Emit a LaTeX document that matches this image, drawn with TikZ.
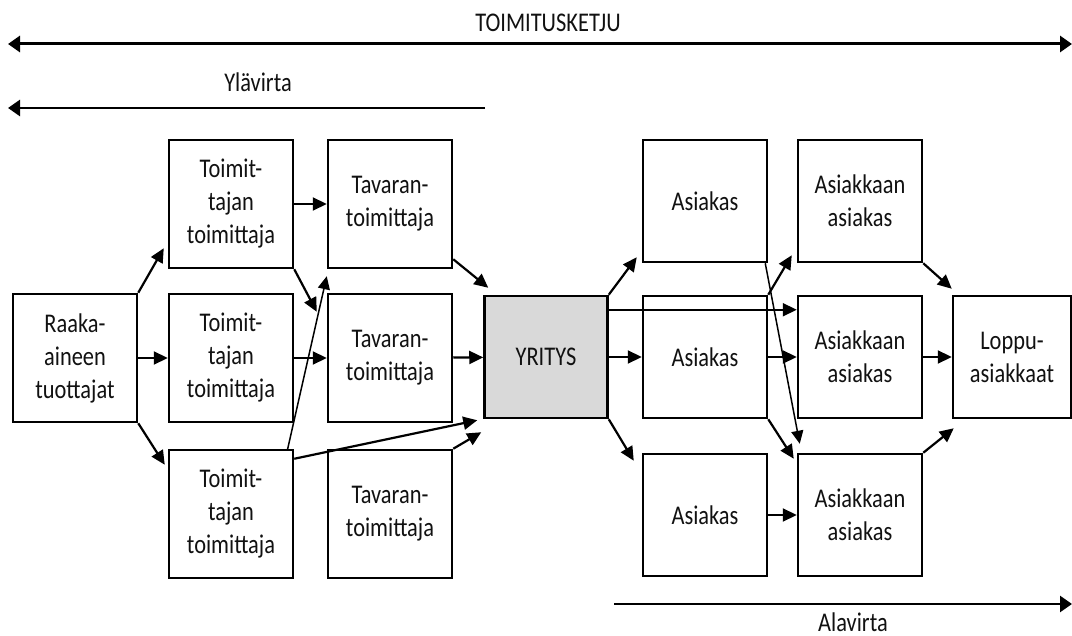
\documentclass[tikz,border=0pt]{standalone}
\usepackage{fontspec}
\setmainfont{Carlito}[FakeStretch=0.83]
\usetikzlibrary{arrows.meta,calc}
\definecolor{yritysgray}{HTML}{D9D9D9}
\definecolor{txt}{HTML}{111111}
\begin{document}
\begin{tikzpicture}[x=1pt,y=-1pt,
  box/.style={draw=black,line width=2.5pt,rectangle,minimum width=124pt,minimum height=128pt,
    align=center,inner sep=0pt,text=txt,font=\fontsize{27}{33}\selectfont},
  rbox/.style={box,minimum height=122pt},
  conn/.style={line width=2.2pt,-{Triangle[length=14pt,width=13pt]}},
  thinconn/.style={line width=1.5pt,-{Triangle[length=13pt,width=12pt]}},
  bigtip/.style={-{Triangle[length=12pt,width=16pt]}},
  lbl/.style={font=\fontsize{27}{32}\selectfont,inner sep=0pt,text=txt}]
\useasboundingbox (0,0) rectangle (1072,636);

% nodes
\node[box] (raaka) at (75,358) {Raaka-\\aineen\\tuottajat};
\node[box] (t1) at (231,204) {Toimit-\\tajan\\toimittaja};
\node[box] (t2) at (231,358) {Toimit-\\tajan\\toimittaja};
\node[box] (t3) at (231,514) {Toimit-\\tajan\\toimittaja};
\node[box] (v1) at (390,204) {Tavaran-\\toimittaja};
\node[box] (v2) at (390,358) {Tavaran-\\toimittaja};
\node[box] (v3) at (390,514) {Tavaran-\\toimittaja};
\node[box,minimum width=123pt,minimum height=122pt,fill=yritysgray] (yr) at (546,357) {YRITYS};
\node[rbox] (a1) at (705,201) {Asiakas};
\node[rbox] (a2) at (705,357) {Asiakas};
\node[rbox] (a3) at (705,515) {Asiakas};
\node[rbox] (k1) at (860,201) {Asiakkaan\\asiakas};
\node[rbox] (k2) at (860,357) {Asiakkaan\\asiakas};
\node[rbox] (k3) at (860,515) {Asiakkaan\\asiakas};
\node[rbox,minimum width=118pt] (lp) at (1012,357) {Loppu-\\asiakkaat};

% connectors, left side
\draw[conn] (raaka.north east) -- ($(t1.south west)+(-4,-21)$);
\draw[conn] (raaka) -- (t2);
\draw[conn] (raaka.south east) -- ($(t3.north west)+(-3,16)$);
\draw[conn] (t1) -- (v1);
\draw[conn] (t1.south east) -- ($(v2.north west)+(-10,19)$);
\draw[conn] (t2) -- (v2);
\draw[thinconn] ($(t3.north east)+(-7,2)$) -- ($(v1.south west)+(0,7)$);
\draw[conn] ($(t3.north east)+(0,10)$) -- ($(yr.south west)+(-6,1)$);
\draw[conn] (v3.north east) -- ($(yr.south west)+(-2,13)$);
\draw[conn] ($(v1.south east)+(0,-10)$) -- ($(yr.north west)+(5,-7)$);
\draw[conn] (v2) -- (yr);

% connectors, right side
\draw[conn] (yr.north east) -- ($(a1.south west)+(-5,-6)$);
\draw[conn] (yr) -- (a2);
\draw[conn] (yr.south east) -- ($(a3.north west)+(-8,8)$);
\draw[conn] ($(yr.north east)+(0,15)$) -- ($(k2.north west)+(0,15)$);
\draw[conn] (a2) -- (k2);
\draw[thinconn] ($(a1.south east)+(-3,0)$) -- ($(k3.north west)+(3,-9)$);
\draw[conn] (a2.north east) -- ($(k1.south west)+(-5,-8)$);
\draw[conn] (a2.south east) -- ($(k3.north west)+(-3,6)$);
\draw[conn] (a3) -- (k3);
\draw[conn] (k1.south east) -- ($(lp.north west)+(0,-6)$);
\draw[conn] (k2) -- (lp);
\draw[conn] (k3.north east) -- ($(lp.south west)+(2,9)$);

% flow arrows
\coordinate (sl) at (8,44);
\coordinate (sr) at (1072,44);
\draw[line width=3pt,{Triangle[length=12pt,width=16pt]}-{Triangle[length=12pt,width=16pt]}] (sl) -- (sr);
\node[lbl] (tk) at (548,23) {TOIMITUSKETJU};

\coordinate (ys) at (485,108);
\coordinate (ye) at (8,108);
\draw[line width=2.6pt,bigtip] (ys) -- (ye);
\node[lbl] (yl) at (258,82) {Ylävirta};

\coordinate (as) at (614,604);
\coordinate (ae) at (1072,604);
\draw[line width=2.6pt,bigtip] (as) -- (ae);
\node[lbl] (al) at (853,622) {Alavirta};
\end{tikzpicture}
\end{document}
